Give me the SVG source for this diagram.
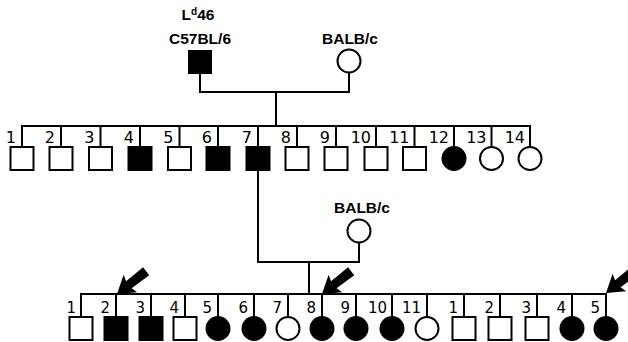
<svg xmlns="http://www.w3.org/2000/svg" width="628" height="342" viewBox="0 0 628 342">
<style>
.ln{stroke:#000;stroke-width:2;fill:none}
.o{fill:#fff;stroke:#000;stroke-width:2}
.f{fill:#000;stroke:#000;stroke-width:2}
.lab{font-family:"Liberation Sans",Arial,sans-serif;font-weight:bold;font-size:15.5px;text-anchor:middle;fill:#000}
.n{font-family:"DejaVu Sans","Liberation Sans",sans-serif;font-size:16px;text-anchor:end;fill:#000}
.n3{font-family:"DejaVu Sans","Liberation Sans",sans-serif;font-size:15px;text-anchor:end;fill:#000}
</style>
<defs>
<polygon id="arr" points="0,0 17,-11 15,-4.5 37,-5 37,5 15,4.5 17,11" fill="#000"/>
</defs>
<g id="connectors">
<path class="ln" d="M200,73 V92 H349 V73"/>
<path class="ln" d="M276,92 V126"/>
<path class="ln" d="M22,147 V126 H530 V147"/>
<path class="ln" d="M61,126 V147 M100.5,126 V147 M140,126 V147 M179.5,126 V147 M218,126 V147 M258,126 V147 M297,126 V147 M336,126 V147 M376,126 V147 M414.5,126 V147 M454,126 V147 M491.5,126 V147"/>
<path class="ln" d="M258,170 V262 H359 V243"/>
<path class="ln" d="M309,262 V294"/>
<path class="ln" d="M81,317 V294 H606 V317"/>
<path class="ln" d="M116,294 V317 M151,294 V317 M185,294 V317 M218,294 V317 M254,294 V317 M288,294 V317 M322,294 V317 M356,294 V317 M392,294 V317 M427,294 V317 M464,294 V317 M500,294 V317 M537,294 V317 M572,294 V317"/>
</g>
<g id="arrows">
<use href="#arr" transform="translate(117,294) rotate(-38)"/>
<use href="#arr" transform="translate(322,294) rotate(-38)"/>
<use href="#arr" transform="translate(606,293) rotate(-38)"/>
</g>
<g id="p0-male">
<text class="lab" x="198" y="20">L<tspan font-size="10" dy="-5">d</tspan><tspan dy="5">46</tspan></text>
<text class="lab" x="200" y="44">C57BL/6</text>
<rect class="f" x="189" y="51" width="22" height="22"/>
</g>
<g id="p0-female">
<text class="lab" x="350" y="44">BALB/c</text>
<circle class="o" cx="349" cy="61" r="11.5"/>
</g>
<g id="p1-balbc">
<text class="lab" x="362" y="213">BALB/c</text>
<circle class="o" cx="359" cy="231" r="11.5"/>
</g>
<g id="gen2">
<g id="g2-1"><text class="n" x="16" y="143">1</text><rect class="o" x="10.5" y="147" width="23" height="23"/></g>
<g id="g2-2"><text class="n" x="55" y="143">2</text><rect class="o" x="49.5" y="147" width="23" height="23"/></g>
<g id="g2-3"><text class="n" x="94.5" y="143">3</text><rect class="o" x="89" y="147" width="23" height="23"/></g>
<g id="g2-4"><text class="n" x="134" y="143">4</text><rect class="f" x="128.5" y="147" width="23" height="23"/></g>
<g id="g2-5"><text class="n" x="173.5" y="143">5</text><rect class="o" x="168" y="147" width="23" height="23"/></g>
<g id="g2-6"><text class="n" x="212" y="143">6</text><rect class="f" x="206.5" y="147" width="23" height="23"/></g>
<g id="g2-7"><text class="n" x="252" y="143">7</text><rect class="f" x="246.5" y="147" width="23" height="23"/></g>
<g id="g2-8"><text class="n" x="291" y="143">8</text><rect class="o" x="285.5" y="147" width="23" height="23"/></g>
<g id="g2-9"><text class="n" x="330" y="143">9</text><rect class="o" x="324.5" y="147" width="23" height="23"/></g>
<g id="g2-10"><text class="n" x="371" y="143">10</text><rect class="o" x="364.5" y="147" width="23" height="23"/></g>
<g id="g2-11"><text class="n" x="409.5" y="143">11</text><rect class="o" x="403" y="147" width="23" height="23"/></g>
<g id="g2-12"><text class="n" x="449" y="143">12</text><circle class="f" cx="454" cy="158.5" r="11.5"/></g>
<g id="g2-13"><text class="n" x="486.5" y="143">13</text><circle class="o" cx="491.5" cy="158.5" r="11.5"/></g>
<g id="g2-14"><text class="n" x="525" y="143">14</text><circle class="o" cx="530" cy="158.5" r="11.5"/></g>
</g>
<g id="gen3">
<g id="g3-1"><text class="n3" x="76" y="313">1</text><rect class="o" x="69.5" y="317" width="23" height="23"/></g>
<g id="g3-2"><text class="n3" x="110" y="313">2</text><rect class="f" x="104.5" y="317" width="23" height="23"/></g>
<g id="g3-3"><text class="n3" x="145" y="313">3</text><rect class="f" x="139.5" y="317" width="23" height="23"/></g>
<g id="g3-4"><text class="n3" x="179" y="313">4</text><rect class="o" x="173.5" y="317" width="23" height="23"/></g>
<g id="g3-5"><text class="n3" x="212" y="313">5</text><circle class="f" cx="218" cy="328.5" r="11.5"/></g>
<g id="g3-6"><text class="n3" x="248" y="313">6</text><circle class="f" cx="254" cy="328.5" r="11.5"/></g>
<g id="g3-7"><text class="n3" x="282" y="313">7</text><circle class="o" cx="288" cy="328.5" r="11.5"/></g>
<g id="g3-8"><text class="n3" x="316" y="313">8</text><circle class="f" cx="322" cy="328.5" r="11.5"/></g>
<g id="g3-9"><text class="n3" x="350" y="313">9</text><circle class="f" cx="356" cy="328.5" r="11.5"/></g>
<g id="g3-10"><text class="n3" x="387" y="313">10</text><circle class="f" cx="392" cy="328.5" r="11.5"/></g>
<g id="g3-11"><text class="n3" x="421" y="313">11</text><circle class="o" cx="427" cy="328.5" r="11.5"/></g>
<g id="g3-12"><text class="n3" x="458" y="313">1</text><rect class="o" x="452.5" y="317" width="23" height="23"/></g>
<g id="g3-13"><text class="n3" x="494" y="313">2</text><rect class="o" x="488.5" y="317" width="23" height="23"/></g>
<g id="g3-14"><text class="n3" x="531" y="313">3</text><rect class="o" x="525.5" y="317" width="23" height="23"/></g>
<g id="g3-15"><text class="n3" x="566" y="313">4</text><circle class="f" cx="572" cy="328.5" r="11.5"/></g>
<g id="g3-16"><text class="n3" x="600" y="313">5</text><circle class="f" cx="606" cy="328.5" r="11.5"/></g>
</g>
</svg>
